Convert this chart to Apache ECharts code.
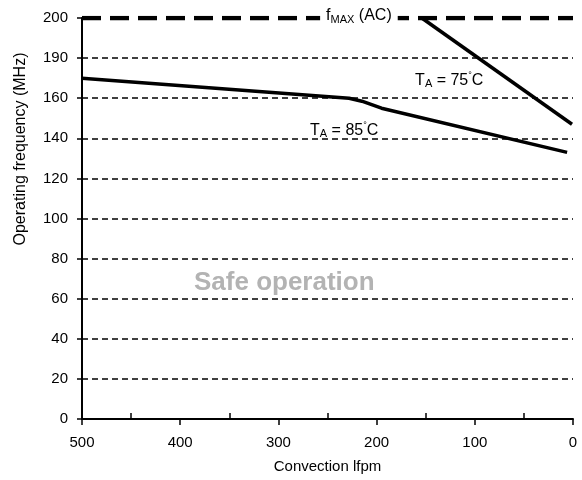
<!DOCTYPE html>
<html>
<head>
<meta charset="utf-8">
<script src="https://cdn.jsdelivr.net/npm/echarts@6/dist/echarts.min.js"></script>
<style>
html,body{margin:0;padding:0;background:#fff;}
#chart{width:582px;height:480px;}
</style>
</head>
<body>
<div id="chart"></div>
<script>
// ---- data ----
const yTickValues = [0, 20, 40, 60, 80, 100, 120, 140, 160, 180, 200];
const yTickLabels = ['0', '20', '40', '60', '80', '100', '120', '140', '160', '190', '200'];
const xMinorTicks = [450, 350, 250, 150, 50];
const fmaxLfpm = [500, 0];
const fmaxMHz = [200, 200];
const t85Lfpm = [500, 228, 215, 195, 6];
const t85MHz = [170, 160, 158.5, 155, 133];
const t75Lfpm = [154, 1];
const t75MHz = [200, 147];
const labelTexts = ['fmax', 't75', 't85', 'safe'];
const labelLfpm = [218, 126, 233, 294];
const labelMHz = [200, 169, 144, 68];

const FONT = '"Liberation Sans", Arial, sans-serif';
const pair = (xs, ys) => xs.map((x, i) => [x, ys[i]]);

const chart = echarts.init(document.getElementById('chart'));
const rich = {
  m: { fontSize: 16, lineHeight: 19, fill: '#000', fontFamily: FONT },
  s: { fontSize: 11, lineHeight: 11, verticalAlign: 'bottom', fill: '#000', fontFamily: FONT },
  d: { fontSize: 9, lineHeight: 19, verticalAlign: 'top', fill: '#000', fontFamily: FONT },
  safe: { fontSize: 26, fontWeight: 'bold', fill: '#b3b3b3', fontFamily: FONT }
};
const labelFmt = {
  fmax: '{m|f}{s|MAX}{m| (AC)}',
  t75: '{m|T}{s|A}{m| = 75}{d|°}{m|C}',
  t85: '{m|T}{s|A}{m| = 85}{d|°}{m|C}',
  safe: '{safe|Safe operation}'
};

chart.setOption({
  animation: false,
  backgroundColor: '#fff',
  grid: { left: 82, right: 9, top: 18, bottom: 61, containLabel: false },
  xAxis: [{
    type: 'value', inverse: true, min: 0, max: 500, interval: 100,
    name: 'Convection lfpm', nameLocation: 'middle', nameGap: 40,
    nameTextStyle: { fontSize: 15, color: '#000', fontFamily: FONT },
    axisLine: { show: true, onZero: false, lineStyle: { color: '#000', width: 2 } },
    axisTick: { show: true, inside: false, length: 6, lineStyle: { color: '#000', width: 1.5 } },
    axisLabel: { fontSize: 15, color: '#000', margin: 16, fontFamily: FONT },
    splitLine: { show: false }
  }, {
    type: 'value', inverse: true, min: 0, max: 500, position: 'bottom',
    axisLine: { show: false, onZero: false },
    axisTick: { show: true, inside: true, length: 6, customValues: xMinorTicks, lineStyle: { color: '#000', width: 1.5 } },
    axisLabel: { show: false },
    splitLine: { show: false }
  }],
  yAxis: {
    type: 'value', min: 0, max: 200, interval: 20, position: 'left',
    axisLine: { show: true, onZero: false, lineStyle: { color: '#000', width: 2 } },
    axisTick: { show: true, inside: false, length: 5, lineStyle: { color: '#000', width: 1.5 } },
    axisLabel: {
      fontSize: 15, color: '#000', margin: 14, fontFamily: FONT,
      formatter: (v) => { const i = yTickValues.indexOf(v); return i >= 0 ? yTickLabels[i] : ''; }
    },
    splitLine: { show: true, showMinLine: false, showMaxLine: false, lineStyle: { color: '#000', width: 1.5, type: [6, 4] } }
  },
  series: [{
    type: 'line', name: 'fMAX', data: pair(fmaxLfpm, fmaxMHz), symbol: 'none', z: 3,
    lineStyle: { color: '#000', width: 4.5, type: [19, 9] }
  }, {
    type: 'line', name: 'TA = 85°C', data: pair(t85Lfpm, t85MHz), symbol: 'none', z: 4,
    lineStyle: { color: '#000', width: 3.5 }
  }, {
    type: 'line', name: 'TA = 75°C', data: pair(t75Lfpm, t75MHz), symbol: 'none', z: 4,
    lineStyle: { color: '#000', width: 3.5 }
  }]
});

// Annotation texts placed through the chart's own scales
const graphics = [{
  type: 'text', x: 21, y: 149, rotation: Math.PI / 2, z: 100,
  style: { text: 'Operating frequency (MHz)', fontSize: 16, fill: '#000', fontFamily: FONT, align: 'center', verticalAlign: 'middle' }
}];
labelTexts.forEach((t, i) => {
  const p = chart.convertToPixel({ xAxisIndex: 0, yAxisIndex: 0 }, [labelLfpm[i], labelMHz[i]]);
  const style = { text: labelFmt[t], rich: rich, align: 'center', verticalAlign: 'middle', fontFamily: FONT };
  if (t === 'fmax') { style.backgroundColor = '#fff'; style.padding = [0, 6]; }
  graphics.push({ type: 'text', x: p[0], y: p[1] - (t === 'fmax' ? 2 : 0), z: 100, style: style });
});
chart.setOption({ graphic: graphics });
</script>
</body>
</html>
